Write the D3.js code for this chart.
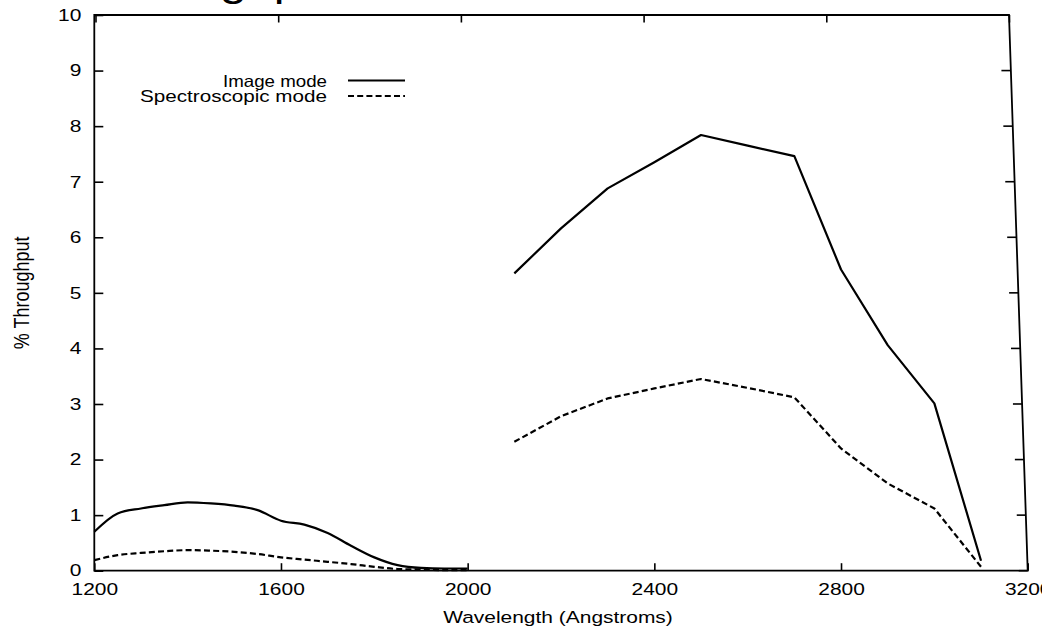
<!DOCTYPE html>
<html>
<head>
<meta charset="utf-8">
<script src="https://cdn.jsdelivr.net/npm/d3@7"></script>
<style>
  html, body { margin: 0; padding: 0; background: #fff; overflow: hidden; }
  svg { display: block; }
  text { font-family: "Liberation Sans", Arial, Helvetica, sans-serif; fill: #000; }
</style>
</head>
<body>
<svg id="chart" width="1042" height="627"></svg>
<script>
// ---- data ----
const titleText = "Throughput";
const xLabel = "Wavelength (Angstroms)";
const yLabel = "% Throughput";
const seriesNames = ["Image mode", "Spectroscopic mode"];

const xTicks = [1200, 1600, 2000, 2400, 2800, 3200];
const yTicks = [0, 1, 2, 3, 4, 5, 6, 7, 8, 9, 10];

const wlFUV = [1200, 1250, 1300, 1350, 1400, 1450, 1500, 1550, 1600, 1650, 1700, 1750, 1800, 1850, 1900, 1950, 2000];
const imageFUV = [0.70, 1.03, 1.12, 1.18, 1.23, 1.21, 1.17, 1.09, 0.90, 0.83, 0.68, 0.45, 0.24, 0.10, 0.05, 0.04, 0.04];
const spectroFUV = [0.19, 0.28, 0.32, 0.35, 0.37, 0.36, 0.34, 0.30, 0.24, 0.20, 0.16, 0.12, 0.07, 0.03, 0.02, 0.01, 0.01];

const wlNUV = [2100, 2200, 2300, 2400, 2500, 2600, 2700, 2800, 2900, 3000, 3100];
const imageNUV = [5.35, 6.16, 6.88, 7.35, 7.84, 7.65, 7.46, 5.42, 4.06, 3.01, 0.18];
const spectroNUV = [2.32, 2.78, 3.10, 3.28, 3.45, 3.29, 3.12, 2.20, 1.57, 1.12, 0.07];

// ---- layout ----
const svg = d3.select("#chart");
const SX = 1.27;        // horizontal stretch of the lettering
const FS = 16.5;

const x = d3.scaleLinear().domain([1200, 3200]).range([94.3, 1027.7]);
const xTop = d3.scaleLinear().domain([1200, 3200]).range([95.5, 1009]);
const y = d3.scaleLinear().domain([0, 10]).range([570.7, 15]);
const xRightEdge = d3.scaleLinear().domain([0, 10]).range([1027.7, 1008.5]);

// title (mostly cut off at the top)
svg.append("text")
  .attr("transform", `translate(94,-4.5) scale(${SX},1)`)
  .attr("font-size", 38)
  .text(titleText);

// axes
const gBottom = svg.append("g").attr("transform", `translate(0,${y(0)})`)
  .call(d3.axisBottom(x).tickValues(xTicks).tickSize(-7.5).tickPadding(12.5).tickFormat(d3.format("d")));
const gTop = svg.append("g").attr("transform", `translate(0,${y(10)})`)
  .call(d3.axisTop(xTop).tickValues(xTicks).tickSize(-7.5).tickFormat(""));
const gLeft = svg.append("g").attr("transform", `translate(${x(1200)},0)`)
  .call(d3.axisLeft(y).tickValues(yTicks).tickSize(-9).tickPadding(13).tickFormat(d3.format("d")));
const gRight = svg.append("g")
  .call(d3.axisRight(y).tickValues(yTicks).tickSize(-9).tickFormat(""));
gRight.selectAll(".tick").attr("transform", d => `translate(${xRightEdge(d)},${y(d)})`);

[gBottom, gTop, gLeft, gRight].forEach(g => {
  g.select(".domain").remove();
  g.selectAll(".tick line").attr("stroke", "#000").attr("stroke-width", 1.6);
  g.selectAll("text").attr("font-size", FS).attr("font-family", '"Liberation Sans", Arial, sans-serif').attr("fill", "#000");
});
gBottom.selectAll(".tick text").attr("transform", `scale(${SX},1)`);
gLeft.selectAll(".tick text").attr("x", 0).attr("transform", `translate(-13,0) scale(${SX},1)`);

// frame
svg.append("path")
  .attr("d", `M${x(1200)},${y(10)} L${xTop(3200)},${y(10)} L${x(3200)},${y(0)} L${x(1200)},${y(0)} Z`)
  .attr("fill", "none").attr("stroke", "#000").attr("stroke-width", 1.8);

// axis labels
svg.append("text")
  .attr("transform", `translate(${(x(1200) + x(3200)) / 2 - 3},623) scale(${SX},1)`)
  .attr("text-anchor", "middle").attr("font-size", FS)
  .text(xLabel);
svg.append("text")
  .attr("transform", `translate(29,${(y(0) + y(10)) / 2}) scale(${SX},1) rotate(-90)`)
  .attr("text-anchor", "middle").attr("font-size", 18)
  .text(yLabel);

// lines
const lineSmooth = d3.line().x(d => x(d[0])).y(d => y(d[1])).curve(d3.curveMonotoneX);
const lineStraight = d3.line().x(d => x(d[0])).y(d => y(d[1]));
const dash = "6,3.2";

function draw(gen, xs, ys, dashed) {
  svg.append("path")
    .datum(xs.map((w, i) => [w, ys[i]]))
    .attr("d", gen)
    .attr("fill", "none")
    .attr("stroke", "#000")
    .attr("stroke-width", 2.2)
    .attr("stroke-linejoin", "round")
    .attr("stroke-dasharray", dashed ? dash : null);
}
draw(lineSmooth, wlFUV, imageFUV, false);
draw(lineSmooth, wlFUV, spectroFUV, true);
draw(lineStraight, wlNUV, imageNUV, false);
draw(lineStraight, wlNUV, spectroNUV, true);

// legend
const legendRows = [
  { name: seriesNames[0], dashed: false, ly: 80.5, w: 104 },
  { name: seriesNames[1], dashed: true, ly: 96, w: 187 }
];
legendRows.forEach(r => {
  svg.append("text")
    .attr("x", 327 - r.w).attr("y", r.ly + 6.3)
    .attr("font-size", FS)
    .attr("textLength", r.w).attr("lengthAdjust", "spacingAndGlyphs")
    .text(r.name);
  svg.append("line")
    .attr("x1", 348).attr("x2", 405).attr("y1", r.ly).attr("y2", r.ly)
    .attr("stroke", "#000").attr("stroke-width", 2.2)
    .attr("stroke-dasharray", r.dashed ? dash : null);
});
</script>
</body>
</html>
